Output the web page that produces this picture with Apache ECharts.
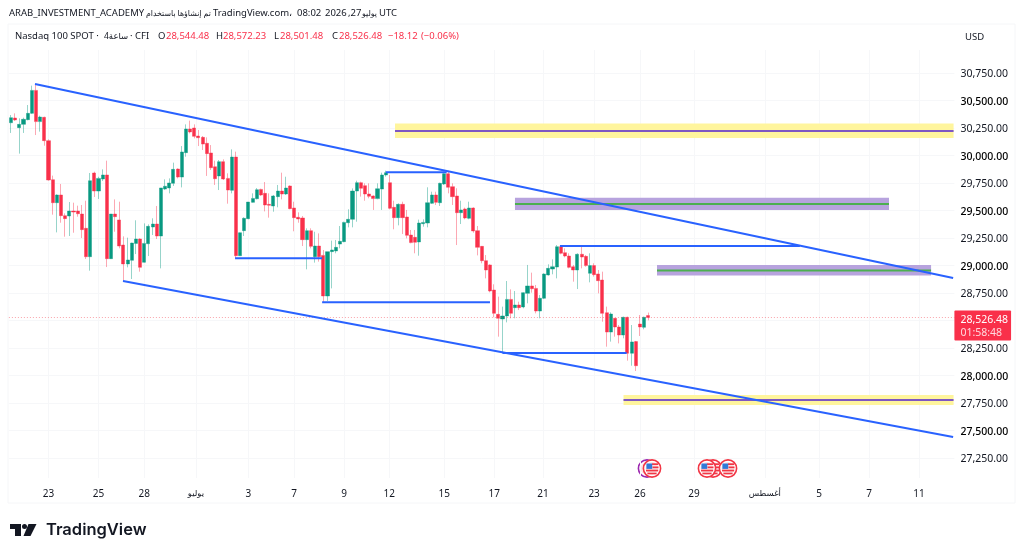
<!DOCTYPE html>
<html>
<head>
<meta charset="utf-8">
<script src="https://cdn.jsdelivr.net/npm/echarts@6/dist/echarts.min.js"></script>
<style>html,body{margin:0;padding:0;background:#fff}#c{width:1024px;height:556px}</style>
</head>
<body>
<div id="c"></div>
<script>
// Nasdaq 100 four-hour candles, in bar order
const opens = [30298,30341,30253,30283,30326,30383,30592,30308,30347,30135,
29780,29571,29641,29453,29450,29495,29495,29468,29338,29080,
29841,29677,29786,29823,29062,29468,29414,29186,29014,29047,
29201,29241,29029,29198,29350,29377,29268,29695,29705,29747,
29877,29804,30026,30241,30250,30177,30165,30111,30023,29898,
29814,29944,29792,29683,29986,29089,29317,29426,29574,29607,
29692,29656,29556,29541,29626,29677,29650,29723,29523,29438,
29432,29235,29317,29080,29177,29092,28723,29126,29132,29195,
29217,29389,29420,29677,29753,29726,29650,29632,29608,29695,
29823,29753,29529,29435,29556,29441,29277,29256,29214,29380,
29386,29565,29641,29571,29741,29835,29717,29632,29480,29514,
29429,29523,29317,29174,29044,29005,28777,28556,28514,28541,
28692,28617,28641,28623,28747,28814,28792,28586,28702,28914,
28968,28986,29171,29117,29086,28989,28959,29102,29083,28929,
28999,28923,28868,28571,28395,28520,28441,28368,28529,28202,
28308,28468,28438,28544.48];
const closes = [30344,30323,30283,30329,30383,30592,30308,30350,30135,29777,
29571,29641,29453,29426,29495,29486,29471,29326,29080,29771,
29677,29792,29823,29062,29468,29444,29177,29014,29050,29204,
29241,28983,29201,29356,29377,29268,29705,29720,29750,29874,
29804,30032,30241,30214,30174,30162,30104,30017,29889,29789,
29944,29786,29686,29986,29089,29298,29429,29577,29610,29689,
29641,29550,29547,29632,29677,29650,29704,29517,29435,29423,
29235,29317,29174,29177,29080,28723,29126,29141,29165,29220,
29392,29420,29677,29753,29702,29650,29629,29608,29698,29823,
29844,29520,29435,29556,29435,29274,29208,29211,29386,29392,
29571,29641,29574,29747,29835,29711,29626,29480,29505,29432,
29523,29314,29165,29044,28959,28768,28565,28520,28541,28692,
28565,28641,28617,28753,28814,28789,28586,28702,28923,28974,
28989,29171,29111,29086,28983,28959,29102,29077,28999,28999,
28917,28862,28565,28395,28559,28441,28368,28529,28202,28305,
28089,28441,28529,28526.48];
const lows = [30205,30314,30017,30205,30320,30377,30186,30217,30089,29771,
29462,29301,29389,29262,29268,29298,29444,29250,29059,28953,
29623,29605,29768,28986,29059,29307,29156,28853,28983,28877,
29104,28944,29026,29086,29277,29241,28974,29686,29656,29723,
29792,29710,29989,30201,30156,30086,30050,29814,29868,29732,
29686,29777,29562,29656,29065,29086,29268,29420,29571,29601,
29632,29492,29435,29489,29529,29601,29641,29511,29311,29389,
29177,28965,29156,29026,29035,28665,28677,28792,29111,29156,
29211,29347,29347,29398,29626,29589,29611,29505,29602,29505,
29808,29511,29329,29365,29286,29247,29202,29111,29089,29353,
29347,29559,29550,29541,29732,29656,29550,29186,29377,29420,
29420,29298,29092,29020,28883,28756,28529,28353,28211,28483,
28520,28520,28595,28611,28656,28753,28565,28520,28695,28908,
28920,28883,29102,29074,28974,28853,28786,28974,28989,28847,
28899,28747,28489,28262,28308,28353,28292,28338,28135,28089,
28041,28359,28420,28501.48];
const highs = [30368,30383,30338,30344,30459,30635,30647,30362,30353,30147,
29817,29647,29741,29474,29577,29571,29544,29550,29589,29841,
29853,29807,29874,29953,29468,29601,29580,29265,29253,29207,
29411,29247,29383,29374,29429,29541,29705,29783,29792,29935,
29883,30086,30283,30317,30283,30232,30177,30165,30095,29953,
29959,29965,29838,30056,30035,29301,29438,29577,29656,29704,
29698,29759,29656,29641,29732,29844,29807,29729,29580,29483,
29450,29338,29338,29307,29292,29141,29126,29226,29232,29359,
29398,29511,29701,29771,29762,29747,29747,29638,29747,29844,
29862,29823,29589,29565,29580,29505,29323,29323,29417,29420,
29711,29671,29671,29753,29853,29862,29747,29702,29589,29526,
29580,29529,29359,29177,29095,29011,28829,28717,28626,28859,
28783,28768,28671,28756,29005,28935,28823,28732,28929,29011,
29056,29186,29186,29156,29111,29005,29111,29171,29095,29111,
29020,28959,28944,28626,28574,28520,28459,28535,28535,28459,
28314,28550,28535,28572.23];

// Price and time scale ticks (x ticks are bar numbers on the continuous time scale)
const priceTicks = [27250,27500,27750,28000,28250,28500,28750,29000,29250,29500,29750,30000,30250,30500,30750];
const shownPriceTicks = priceTicks.filter(v => v !== 28500);
const timeTicks = [9,21,32,44.4,57,68,80,90.8,104,116,127.7,140,151,164,181,194,206,218];
const timeLabels = ['23','25','28','يوليو','3','7','9','12','15','17','21','23','26','29','أغسطس','5','7','11'];
const monthLabels = ['يوليو','أغسطس'];

// Drawn objects: [barFrom, barTo, priceFrom, priceTo]
const channelLines = [[5.76,226.2,30650,28886],[26.9,226.2,28859,27441]];
const levelLines = [[90,104.6,29847,29847],[53.8,74.7,29065,29065],[74.7,115,28665,28665],[131.8,189.4,29177,29177],[118,147.8,28205,28205]];
// Zones: [barFrom, barTo, priceLow, priceHigh, midPrice]
const yellowZones = [[92.2,226.3,30159,30291,30223],[147.06,226.3,27732,27823,27777]];
const purpleZones = [[121,210.8,29505,29616,29559],[155.1,220.9,28909,29004,28954]];

const lastPrice = closes[closes.length - 1];
const barSlots = 227;
const UP = '#089981', DOWN = '#f9304a', TEXT = '#131722', GRID = '#f6f7f9';
const FONT = '"Noto Sans","DejaVu Sans",sans-serif';

const fmt = v => v.toLocaleString('en-US', {minimumFractionDigits: 2, maximumFractionDigits: 2});
const candles = opens.map((o, i) => [o, closes[i], lows[i], highs[i]]);

function segment(s, color, width) {
  return {type: 'line', xAxisIndex: 1, yAxisIndex: 0, symbol: 'none', silent: true, z: 5,
    data: [[s[0], s[2]], [s[1], s[3]]],
    lineStyle: {color: color, width: width, cap: 'butt'}};
}
function zoneSeries(zones, fill, lineColor) {
  const out = [{type: 'line', xAxisIndex: 1, yAxisIndex: 0, symbol: 'none', silent: true, z: 1, data: [],
    markArea: {silent: true, itemStyle: {color: fill},
      data: zones.map(z => [{xAxis: z[0], yAxis: z[2]}, {xAxis: z[1], yAxis: z[3]}])}}];
  zones.forEach(z => out.push(segment([z[0], z[1], z[4], z[4]], lineColor, 2)));
  return out;
}

const series = [
  {type: 'candlestick', xAxisIndex: 0, yAxisIndex: 0, barWidth: 3.6, z: 3, silent: true, data: candles,
   itemStyle: {color: UP, color0: DOWN, borderColor: 'rgba(8,153,129,0.42)', borderColor0: 'rgba(249,48,74,0.42)', borderWidth: 1},
   markLine: {silent: true, symbol: 'none', animation: false, precision: 2,
     lineStyle: {color: 'rgba(242,54,69,0.45)', width: 1, type: [1, 2]},
     label: {position: 'end', distance: 0, offset: [0, 8], formatter: () => '{p|' + fmt(lastPrice) + '}\n{t|01:58:48}',
       backgroundColor: '#f9304a', padding: [3, 3, 2, 6], borderRadius: 1,
       rich: {p: {color: '#fff', fontSize: 10.5, fontFamily: FONT, lineHeight: 13},
              t: {color: '#ffd9de', fontSize: 10.5, fontFamily: FONT, lineHeight: 12}}},
     data: [{yAxis: lastPrice}]}}
].concat(zoneSeries(yellowZones, '#fff59d', '#7e57c2'), zoneSeries(purpleZones, '#b7a3de', '#4caf50'));
channelLines.concat(levelLines).forEach(s => series.push(segment(s, '#2962ff', 2)));

// Fixed page furniture: header legend, currency tag, economic event badges, wordmark
function headText(text, x, y, color, extra) {
  return {type: 'text', x: x, y: y, silent: true,
    style: Object.assign({text: text, fill: color || TEXT, font: '9.5px ' + FONT, textVerticalAlign: 'middle'}, extra || {})};
}
function flagBadge(cx, cy, ring) {
  const kids = [
    {type: 'circle', shape: {cx: 0, cy: 0, r: 8.6}, style: {fill: '#fff', stroke: ring, lineWidth: 1.6}},
    {type: 'circle', shape: {cx: 0, cy: 0, r: 6.4}, style: {fill: '#fbe3e5'}}];
  if (ring === '#f23645') {
    kids.push(
      {type: 'rect', shape: {x: 0, y: -5.2, width: 6, height: 1.7}, style: {fill: '#f23645'}},
      {type: 'rect', shape: {x: 0.5, y: -2, width: 6, height: 1.7}, style: {fill: '#f23645'}},
      {type: 'rect', shape: {x: -6, y: 1.2, width: 12.2, height: 1.7}, style: {fill: '#f23645'}},
      {type: 'rect', shape: {x: -4.6, y: 4.2, width: 9.2, height: 1.6}, style: {fill: '#f23645'}},
      {type: 'rect', shape: {x: -5.6, y: -5, width: 5.8, height: 5.4}, style: {fill: '#3179d8'}});
  }
  return {type: 'group', x: cx, y: cy, silent: true, children: kids};
}

const graphic = [
  {type: 'rect', shape: {x: 8, y: 24, width: 1007, height: 479}, silent: true, z: -1,
   style: {fill: 'none', stroke: '#f5f6f8', lineWidth: 1}},
  headText('ARAB_INVESTMENT_ACADEMY', 9, 13.5),
  headText('تم إنشاؤها باستخدام', 146, 13.5, TEXT, {font: '7.8px ' + FONT}),
  headText('TradingView.com،', 213, 13.5),
  headText('08:02', 297, 13.5),
  headText('2026', 325, 13.5),
  headText(',27', 348, 13.5),
  headText('يوليو', 362, 13.5, TEXT, {font: '7.8px ' + FONT}),
  headText('UTC', 379, 13.5),
  headText('Nasdaq 100 SPOT · ', 15, 36.5),
  headText('4ساعة', 104, 36.5, TEXT, {font: '8.5px ' + FONT}),
  headText('· CFI', 130, 36.5),
  headText('O', 158, 36.5),
  headText(fmt(opens[opens.length - 1]), 166, 36.5, DOWN),
  headText('H', 216, 36.5),
  headText(fmt(highs[highs.length - 1]), 223, 36.5, DOWN),
  headText('L', 274, 36.5),
  headText(fmt(lows[lows.length - 1]), 280, 36.5, DOWN),
  headText('C', 332, 36.5),
  headText(fmt(lastPrice), 339, 36.5, DOWN),
  headText('−18.12', 388, 36.5, DOWN),
  headText('(−0.06%)', 421, 36.5, DOWN),
  headText('USD', 965, 37),
  flagBadge(647, 468.5, '#9c27b0'), flagBadge(652, 468.5, '#f23645'),
  flagBadge(713, 468.5, '#f23645'), flagBadge(707, 468.5, '#f23645'),
  flagBadge(728, 468.5, '#f23645'),
  {type: 'polygon', silent: true, shape: {points: [[10,524],[21,524],[21,536],[15,536],[15,529],[10,529]]}, style: {fill: '#131722'}},
  {type: 'circle', silent: true, shape: {cx: 24.5, cy: 526.5, r: 2.5}, style: {fill: '#131722'}},
  {type: 'polygon', silent: true, shape: {points: [[28.5,524],[36.5,524],[30.5,536],[23.5,536]]}, style: {fill: '#131722'}},
  {type: 'text', x: 46, y: 530, silent: true,
   style: {text: 'TradingView', fill: '#131722', font: '600 16.5px Inter,' + FONT, textVerticalAlign: 'middle'}}
];

const chart = echarts.init(document.getElementById('c'), null, {renderer: 'canvas'});
chart.setOption({
  animation: false,
  backgroundColor: '#fff',
  grid: {left: 8.9, right: 69.6, top: 50, bottom: 78, containLabel: false},
  xAxis: [
    {type: 'category', show: false, data: Array.from({length: barSlots}, (_, i) => i)},
    {type: 'value', position: 'bottom', min: -0.5, max: barSlots - 0.5, scale: true,
     axisLine: {show: false},
     axisTick: {show: false, customValues: timeTicks},
     splitLine: {show: true, customValues: timeTicks, lineStyle: {color: GRID, width: 1}},
     axisLabel: {customValues: timeTicks, margin: 11, fontSize: 10, fontFamily: FONT, color: TEXT, showMinLabel: true, showMaxLabel: true,
       formatter: v => {
         const s = timeLabels[timeTicks.indexOf(v)];
         return monthLabels.includes(s) ? '{m|' + s + '}' : s;
       },
       rich: {m: {fontSize: 8.5, fontFamily: FONT, color: TEXT}}}}
  ],
  yAxis: [{type: 'value', position: 'right', min: 27068.18, max: 30959.09, scale: true,
    axisLine: {show: false},
    axisTick: {show: false, customValues: priceTicks},
    splitLine: {show: true, customValues: priceTicks, lineStyle: {color: GRID, width: 1}},
    axisLabel: {customValues: shownPriceTicks, margin: 6, fontSize: 10.5, fontFamily: FONT, color: TEXT, align: 'left', padding: [2, 0, 0, 0],
      formatter: v => v % 500 === 0 ? '{b|' + fmt(v) + '}' : fmt(v),
      rich: {b: {fontWeight: 500, fontSize: 10.5, fontFamily: FONT, color: '#000', padding: [2, 0, 0, 0]}}}}],
  series: series,
  graphic: graphic
});
</script>
</body>
</html>
